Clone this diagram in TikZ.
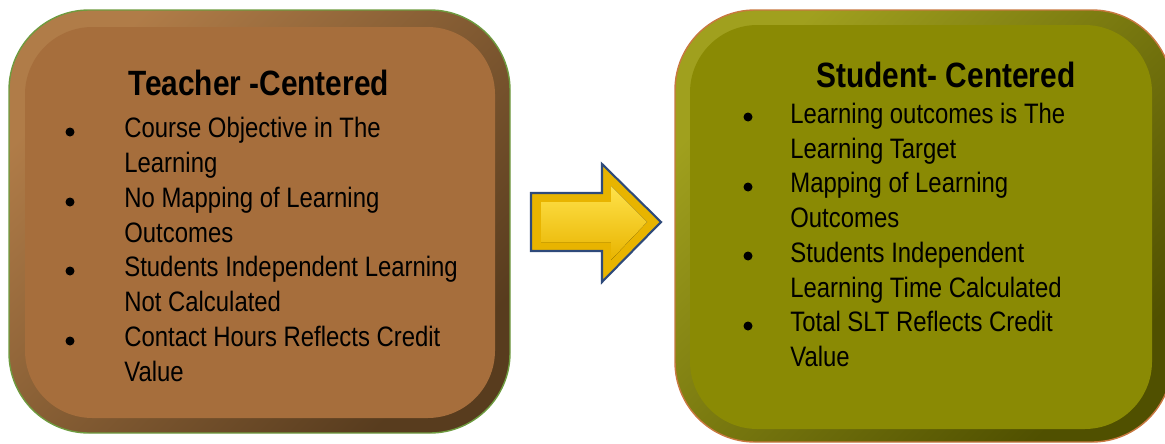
\documentclass[tikz,border=0pt]{standalone}
\usepackage{fontspec}
\setmainfont{Liberation Sans}[FakeStretch=0.85]
\definecolor{tface}{RGB}{166,110,60}
\definecolor{tlight}{RGB}{176,124,72}
\definecolor{tdark}{RGB}{88,60,30}
\definecolor{tedge}{RGB}{110,155,63}
\definecolor{sface}{RGB}{138,138,4}
\definecolor{slight}{RGB}{160,160,30}
\definecolor{sdark}{RGB}{80,80,0}
\definecolor{sedge}{RGB}{200,120,64}
\definecolor{aedge}{RGB}{46,74,122}
\definecolor{agold}{RGB}{232,180,0}
\definecolor{atop}{RGB}{255,226,74}

\begin{document}
\begin{tikzpicture}[x=0.02cm,y=-0.02cm,
    item/.style={anchor=base west,inner sep=0pt,align=left,font=\fontsize{16}{19.4}\selectfont},
    ttl/.style={anchor=base,inner sep=0pt,font=\fontsize{20}{24}\selectfont\bfseries},
    dot/.style={circle,fill=black,inner sep=0pt,minimum size=0.18cm}]
    \useasboundingbox (0,0) rectangle (1165,443);

    % 左边的框
    \draw[draw=tedge,line width=0.8pt,rounded corners=1.6cm,shading=axis,top color=tlight,bottom color=tdark,shading angle=45] (9,10) rectangle (510,433);
    \fill[tface,rounded corners=1.35cm] (25,27) rectangle (495,418);

    \node[ttl] (tt) at (259,95) {Teacher -Centered};
    \node[dot] (tb1) at (70,132) {};
    \node[item] (ti1) at (124,172) {Course Objective in The\\Learning};
    \node[dot] (tb2) at (70,202) {};
    \node[item] (ti2) at (124,242) {No Mapping of Learning\\Outcomes};
    \node[dot] (tb3) at (70,271) {};
    \node[item] (ti3) at (124,311) {Students Independent Learning\\Not Calculated};
    \node[dot] (tb4) at (70,341) {};
    \node[item] (ti4) at (124,381) {Contact Hours Reflects Credit\\Value};

    % 右边的框
    \draw[draw=sedge,line width=0.8pt,rounded corners=1.6cm,shading=axis,top color=slight,bottom color=sdark,shading angle=45] (675,10) rectangle (1172,442);
    \fill[sface,rounded corners=1.35cm] (690,25) rectangle (1152,429);

    \node[ttl] (st) at (946,87) {Student- Centered};
    \node[dot] (sb1) at (748,117) {};
    \node[item] (si1) at (790,158) {Learning outcomes is The\\Learning Target};
    \node[dot] (sb2) at (748,187) {};
    \node[item] (si2) at (790,227) {Mapping of Learning\\Outcomes};
    \node[dot] (sb3) at (748,256) {};
    \node[item] (si3) at (790,297) {Students Independent\\Learning Time Calculated};
    \node[dot] (sb4) at (748,326) {};
    \node[item] (si4) at (790,366) {Total SLT Reflects Credit\\Value};

    % 中间的箭头
    \filldraw[draw=aedge,line width=1.2pt,fill=agold] (531,193) -- (602,193) -- (602,164) -- (661,222) -- (602,282) -- (602,251) -- (531,251) -- cycle;
    \fill[top color=atop,bottom color=agold] (541,202) -- (611,202) -- (611,186) -- (647,222) -- (611,260) -- (611,242) -- (541,242) -- cycle;
\end{tikzpicture}
\end{document}
